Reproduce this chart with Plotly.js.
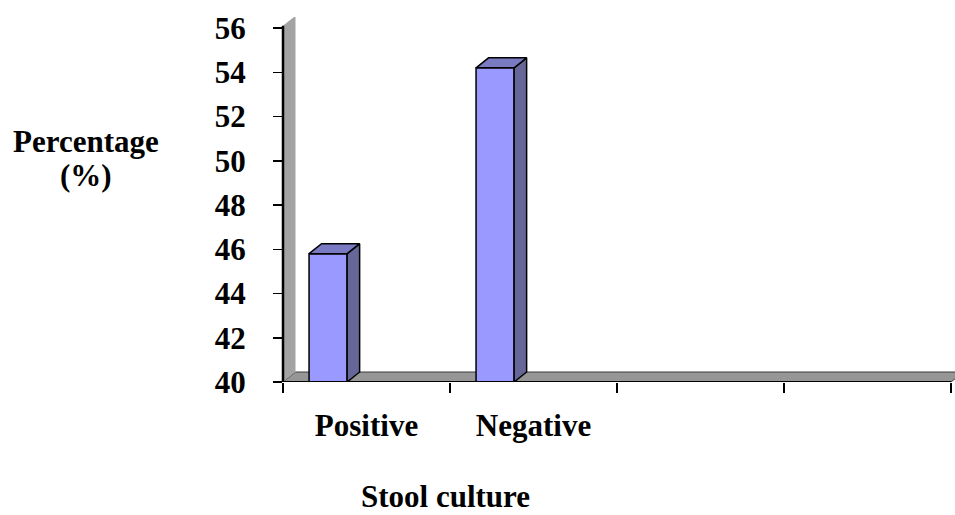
<!DOCTYPE html>
<html><head><meta charset="utf-8">
<script src="https://cdn.plot.ly/plotly-3.0.1.min.js"></script>
<style>html,body{margin:0;padding:0;background:#fff}#chart{width:955px;height:515px}</style>
</head><body><div id="chart"></div>
<script>
// ---- data ----
const categories = ['Positive', 'Negative', '', ''];
const percentages = [45.8, 54.2, null, null];
const yTicks = [40, 42, 44, 46, 48, 50, 52, 54, 56];
const xTitle = 'Stool culture';
const yTitleLines = ['Percentage', '(%)'];

// ---- geometry / style ----
const W = 955, H = 515, L = 283, R = 0, T = 17, B = 133;
const pxPerCat = 167, pxPerUnit = 22.125;
const dx = 12.5 / pxPerCat, dy = 10 / pxPerUnit;     // 3-D depth in axis units
const barW = 0.228, barOff = -0.344;
const n = categories.length;
const x0 = -0.5, x1 = n - 0.5;
const yMin = yTicks[0], yMax = yTicks[yTicks.length - 1];
const wallTop = yMax + 0.1;
const xRange = [x0, x0 + (W - L - R) / pxPerCat];
const yRange = [yMin, yMin + (H - T - B) / pxPerUnit];
const FONT = 'Liberation Serif, Times New Roman, serif';
const FS = 31;
const frontCol = '#9999FF', sideCol = '#666699', topCol = '#7A7AC2';
const PW = W - L - R, PH = H - T - B;

const idx = [], vals = [];
categories.forEach((c, i) => { if (percentages[i] != null) { idx.push(i); vals.push(percentages[i]); } });

const sideX = [], sideY = [], topX = [], topY = [];
idx.forEach((i, k) => {
  const v = vals[k];
  const a = i + barOff, b = a + barW;
  sideX.push(b, b + dx, b + dx, b, b, null);
  sideY.push(yMin, yMin + dy, v + dy, v, yMin, null);
  topX.push(a, a + dx, b + dx, b, a, null);
  topY.push(v, v + dy, v + dy, v, v, null);
});

const traces = [
  { type: 'bar', x: idx, y: vals, width: barW, offset: barOff,
    marker: { color: frontCol, line: { color: '#000', width: 1.5 } }, hoverinfo: 'y', showlegend: false },
  { type: 'scatter', mode: 'lines', x: sideX, y: sideY, fill: 'toself', fillcolor: sideCol,
    line: { color: '#000', width: 1.5 }, hoverinfo: 'skip', showlegend: false },
  { type: 'scatter', mode: 'lines', x: topX, y: topY, fill: 'toself', fillcolor: topCol,
    line: { color: '#000', width: 1.5 }, hoverinfo: 'skip', showlegend: false }
];

const boundaries = [];
for (let i = 0; i <= n; i++) boundaries.push(x0 + i);

const shapes = [
  { type: 'path', xref: 'x', yref: 'y', layer: 'below',
    path: `M ${x0},${yMin} L ${x0 + dx},${yMin + dy} L ${x1 + dx},${yMin + dy} L ${x1},${yMin} Z`,
    fillcolor: '#969696', line: { color: '#3a3a3a', width: 1 } },
  { type: 'path', xref: 'x', yref: 'y', layer: 'below',
    path: `M ${x0},${yMin} L ${x0},${wallTop} L ${x0 + dx},${wallTop + dy} L ${x0 + dx},${yMin + dy} Z`,
    fillcolor: '#A3A3A3', line: { width: 0 } },
  { type: 'line', xref: 'x', yref: 'y', x0: x0, x1: x1, y0: yMin, y1: yMin, line: { color: '#000', width: 2 } },
  { type: 'line', xref: 'paper', yref: 'y', x0: 0, x1: 0, y0: yMin, y1: wallTop, line: { color: '#000', width: 2.5 } }
];

const titleFont = { family: FONT, size: FS, color: '#000', weight: 'bold' };
const layout = {
  width: W, height: H,
  margin: { l: L, r: R, t: T, b: B, pad: 0 },
  paper_bgcolor: '#fff', plot_bgcolor: 'rgba(0,0,0,0)',
  showlegend: false,
  font: titleFont,
  xaxis: {
    range: xRange, showgrid: false, zeroline: false, showline: false,
    tickmode: 'array', tickvals: idx, ticktext: idx.map(i => categories[i]), ticks: '',
    tickfont: titleFont,
    ticklabelstandoff: 22,
    minor: { tickmode: 'array', tickvals: boundaries, ticks: 'outside', ticklen: 10, tickwidth: 1.5, tickcolor: '#000', showgrid: false }
  },
  yaxis: {
    range: yRange, showgrid: false, zeroline: false, showline: false,
    tickmode: 'array', tickvals: yTicks, ticks: 'outside', ticklen: 9, tickwidth: 1.5, tickcolor: '#000',
    tickfont: titleFont,
    ticklabelstandoff: 21
  },
  shapes: shapes,
  annotations: [
    { text: yTitleLines[0], xref: 'paper', yref: 'paper', x: (85.5 - L) / PW, y: (382 - 141) / PH,
      xanchor: 'center', yanchor: 'middle', showarrow: false, font: titleFont },
    { text: yTitleLines[1], xref: 'paper', yref: 'paper', x: (85.5 - L) / PW, y: (382 - 175) / PH,
      xanchor: 'center', yanchor: 'middle', showarrow: false, font: titleFont },
    { text: xTitle, xref: 'paper', yref: 'paper', x: (445 - L) / PW, y: (382 - 496) / PH,
      xanchor: 'center', yanchor: 'middle', showarrow: false, font: titleFont }
  ]
};

Plotly.newPlot('chart', traces, layout, { displayModeBar: false, staticPlot: true });
</script>
</body></html>
